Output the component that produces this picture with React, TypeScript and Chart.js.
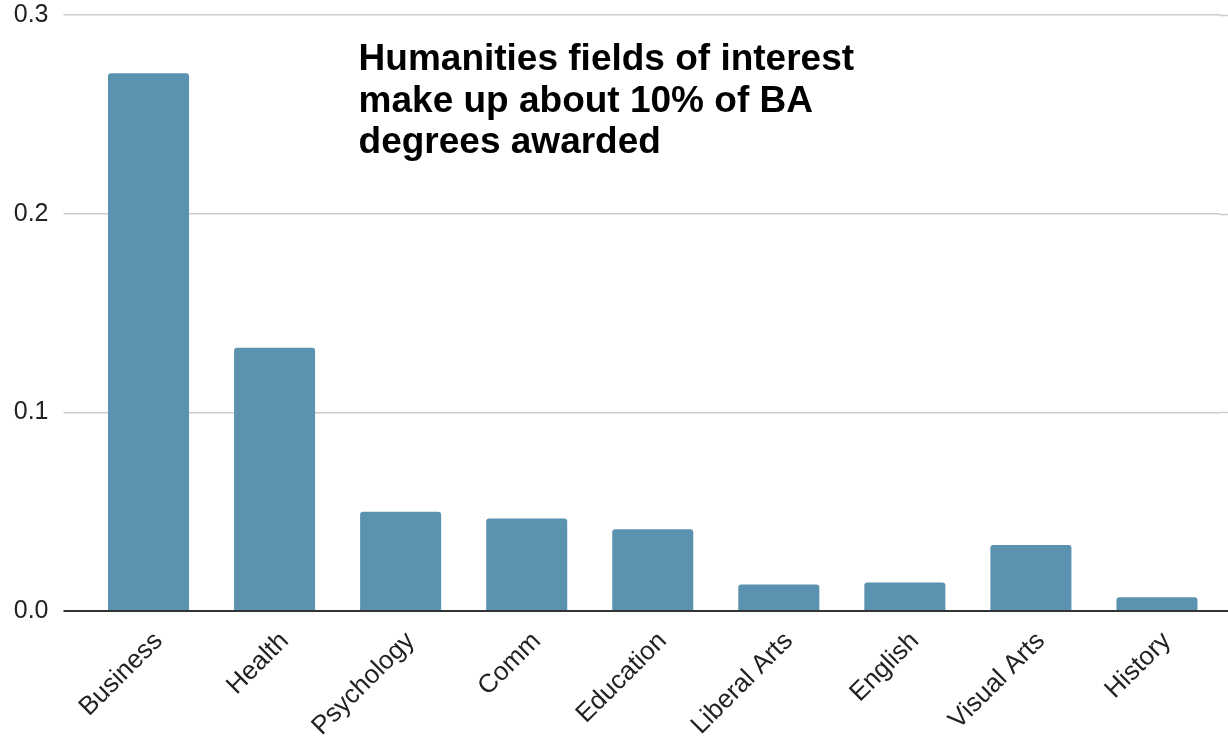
import React, { useEffect, useRef } from "react";
import { Chart, registerables } from "chart.js";

Chart.register(...registerables);

const categories = ["Business", "Health", "Psychology", "Comm", "Education", "Liberal Arts", "English", "Visual Arts", "History"];
const shares = [0.2707, 0.1325, 0.05, 0.0466, 0.0411, 0.0134, 0.0144, 0.0332, 0.0069];
const yTicks = [0, 0.1, 0.2, 0.3];
const noteLines = ["Humanities fields of interest", "make up about 10% of BA", "degrees awarded"];

const FONT = "'Liberation Sans', Arial, sans-serif";

const extendGrid = {
  id: "extendGrid",
  beforeDatasetsDraw(chart: any) {
    const { ctx, chartArea } = chart;
    const y = chart.scales.y;
    ctx.save();
    ctx.strokeStyle = "#cccccc";
    ctx.lineWidth = 1.5;
    for (const t of yTicks) {
      if (t === 0) continue;
      const py = Math.round(y.getPixelForValue(t)) + 0.5;
      ctx.beginPath();
      ctx.moveTo(chartArea.right, py);
      ctx.lineTo(chart.width, py);
      ctx.stroke();
    }
    ctx.restore();
  },
  afterDatasetsDraw(chart: any) {
    const { ctx, chartArea } = chart;
    const y = chart.scales.y;
    const py = y.getPixelForValue(0);
    ctx.save();
    ctx.strokeStyle = "#333333";
    ctx.lineWidth = 2;
    ctx.beginPath();
    ctx.moveTo(chartArea.left - 22, py);
    ctx.lineTo(chart.width, py);
    ctx.stroke();
    // annotation
    ctx.fillStyle = "#000000";
    ctx.font = `bold 37px ${FONT}`;
    ctx.textAlign = "left";
    ctx.textBaseline = "alphabetic";
    const x0 = chart.scales.x.getPixelForValue(1) + 84;
    noteLines.forEach((line, i) => {
      ctx.fillText(line, x0, y.getPixelForValue(0.3) + 55 + i * 41.5);
    });
    ctx.restore();
  },
};

export default function App() {
  const ref = useRef<HTMLCanvasElement>(null);
  useEffect(() => {
    document.body.style.margin = "0";
    const chart = new Chart(ref.current!, {
      type: "bar",
      data: {
        labels: categories,
        datasets: [
          {
            data: shares,
            backgroundColor: "#5b92b0",
            borderRadius: 3,
            categoryPercentage: 1,
            barPercentage: 0.643,
          },
        ],
      },
      options: {
        animation: false,
        responsive: false,
        maintainAspectRatio: false,
        layout: { padding: { left: 0, right: 8, top: 15, bottom: 0 } },
        plugins: { legend: { display: false }, tooltip: { enabled: false } },
        scales: {
          x: {
            grid: { display: false, drawTicks: false },
            border: { display: false },
            ticks: {
              color: "#222222",
              font: { family: FONT, size: 26 },
              minRotation: 45,
              maxRotation: 45,
              padding: 15,
              labelOffset: 10,
            },
            afterFit: (s: any) => {
              s.height = 127;
            },
          },
          y: {
            min: 0,
            max: 0.3,
            afterBuildTicks: (s: any) => {
              s.ticks = yTicks.map((v) => ({ value: v }));
            },
            grid: {
              color: (c: any) => (c.tick && c.tick.value === 0 ? "rgba(0,0,0,0)" : "#cccccc"),
              lineWidth: 1.5,
              drawTicks: true,
              tickLength: 22,
              tickColor: (c: any) => (c.tick && c.tick.value === 0 ? "rgba(0,0,0,0)" : "#cccccc"),
            },
            border: { display: false },
            ticks: {
              color: "#222222",
              font: { family: FONT, size: 25 },
              padding: 15,
              callback: (v: any) => Number(v).toFixed(1),
            },
            afterFit: (s: any) => {
              s.width = 85.5;
              s.paddingTop = 0;
              s.paddingBottom = 0;
            },
          },
        },
      },
      plugins: [extendGrid],
    });
    return () => chart.destroy();
  }, []);
  return (
    <div style={{ position: "relative", width: 1228, height: 738 }}>
      <canvas ref={ref} width={1228} height={738} style={{ display: "block" }} />
    </div>
  );
}
